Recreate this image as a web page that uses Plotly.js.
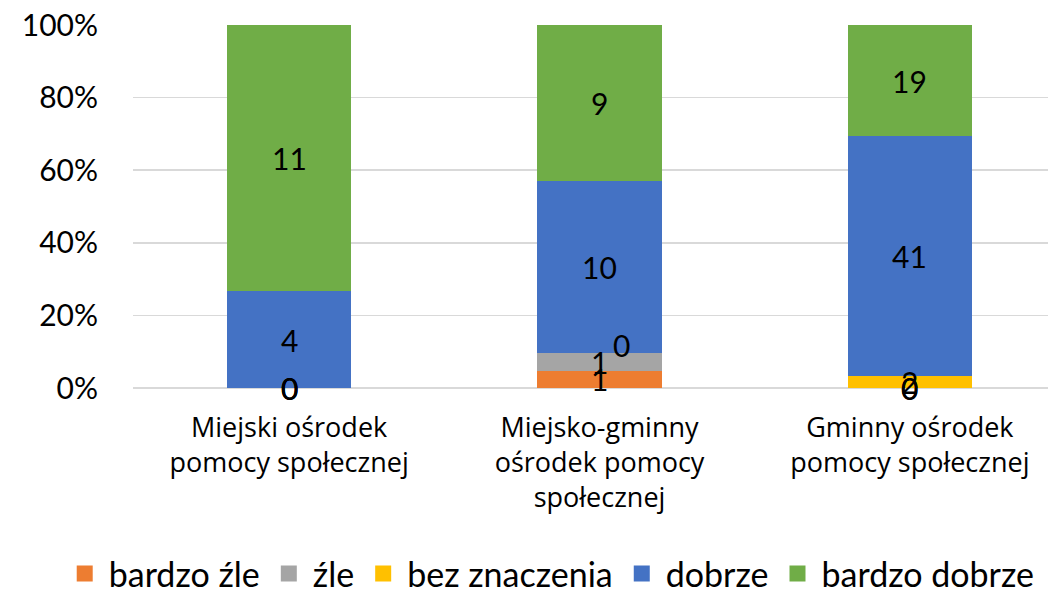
<!DOCTYPE html>
<html>
<head>
<meta charset="utf-8">
<script src="https://cdn.plot.ly/plotly-3.0.1.min.js"></script>
<style>html,body{margin:0;padding:0;background:#fff;}#chart{width:1048px;height:589px;}</style>
</head>
<body>
<div id="chart"></div>
<script>
const categories = ["Miejski ośrodek<br>pomocy społecznej", "Miejsko-gminny<br>ośrodek pomocy<br>społecznej", "Gminny ośrodek<br>pomocy społecznej"];
const seriesNames = ["bardzo źle", "źle", "bez znaczenia", "dobrze", "bardzo dobrze"];
const bardzoZle = [0, 1, 0];
const zle = [0, 1, 0];
const bezZnaczenia = [0, 0, 2];
const dobrze = [4, 10, 41];
const bardzoDobrze = [11, 9, 19];
const colors = ["#ED7D31", "#A5A5A5", "#FFC000", "#4472C4", "#70AD47"];
const yTicks = [0, 20, 40, 60, 80, 100];
// manual label nudges (series index, category index, dx, dy) as in the original
const labelNudges = [[2, 1, 22, 8]];

const series = [bardzoZle, zle, bezZnaczenia, dobrze, bardzoDobrze];
const FONT = "Lato, 'Open Sans', sans-serif";

const traces = series.map((vals, i) => ({
  type: "bar",
  name: seriesNames[i],
  x: [0, 1, 2],
  y: vals,
  marker: {color: colors[i], line: {width: 0}},
  width: 0.4,
  showlegend: false,
  hoverinfo: "skip"
}));
// legend entries with larger square swatches
series.forEach((vals, i) => {
  traces.push({
    type: "scatter", mode: "markers", name: seriesNames[i],
    x: [null], y: [null],
    marker: {symbol: "square", size: 21, color: colors[i], line: {width: 0}},
    showlegend: true, hoverinfo: "skip"
  });
});

const totals = [0, 1, 2].map(c => series.reduce((s, v) => s + v[c], 0));
const annotations = [];
[0, 1, 2].forEach(c => {
  let cum = 0;
  series.forEach((vals, i) => {
    const pct = vals[c] / totals[c] * 100;
    const mid = cum + pct / 2;
    cum += pct;
    let dx = 0, dy = 0;
    labelNudges.forEach(n => { if (n[0] === i && n[1] === c) { dx = n[2]; dy = n[3]; } });
    annotations.push({
      x: c, y: mid, xref: "x", yref: "y",
      text: String(vals[c]), showarrow: false,
      xanchor: "center", yanchor: "middle",
      xshift: dx, yshift: dy,
      font: {family: FONT, size: 30, color: "#000"}
    });
  });
});

const layout = {
  width: 1048, height: 589,
  margin: {l: 133, r: 0, t: 25, b: 201, autoexpand: false},
  paper_bgcolor: "#fff", plot_bgcolor: "#fff",
  barmode: "stack", barnorm: "percent",
  showlegend: true,
  legend: {
    orientation: "h", xref: "paper", yref: "paper",
    x: -0.079, xanchor: "left", y: -0.512, yanchor: "middle",
    font: {family: FONT, size: 34, color: "#000"},
    traceorder: "normal", itemwidth: 38, itemsizing: "trace"
  },
  xaxis: {
    range: [-0.503, 2.445],
    tickmode: "array", tickvals: [0, 1, 2], ticktext: categories,
    tickangle: 0, automargin: false,
    showgrid: false, zeroline: false, showline: false, ticks: "",
    ticklabelstandoff: 21,
    tickfont: {family: "'Open Sans', Lato, sans-serif", size: 27, color: "#000"},
    fixedrange: true
  },
  yaxis: {
    range: [0, 100], automargin: false,
    tickmode: "array", tickvals: yTicks, ticktext: yTicks.map(v => v + "%"),
    showgrid: true, gridcolor: "#D9D9D9", gridwidth: 1.5,
    zeroline: true, zerolinecolor: "#D9D9D9", zerolinewidth: 1.5,
    showline: false, ticks: "",
    ticklabelstandoff: 34,
    tickfont: {family: FONT, size: 30, color: "#000"},
    fixedrange: true
  },
  annotations: annotations,
  font: {family: FONT}
};

Plotly.newPlot("chart", traces, layout, {displayModeBar: false, staticPlot: true});
</script>
</body>
</html>
